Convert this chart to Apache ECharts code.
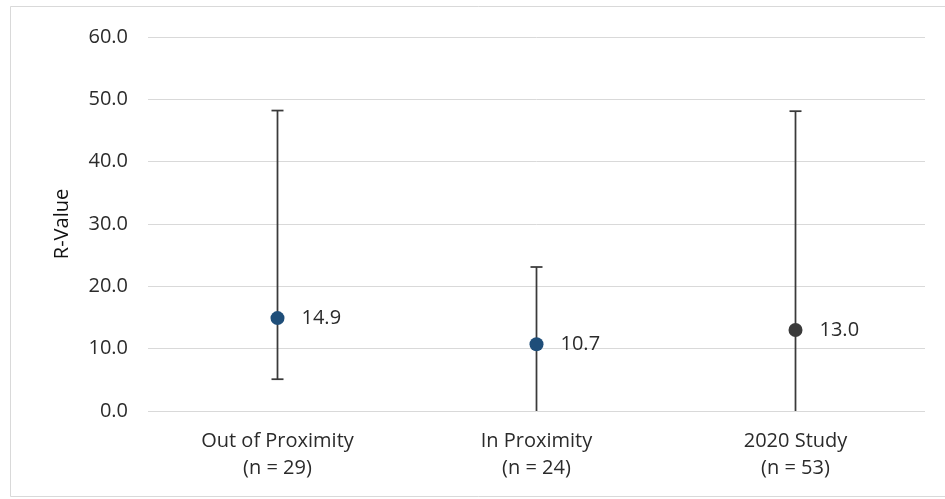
<!DOCTYPE html>
<html>
<head>
<meta charset="utf-8">
<script src="https://cdn.jsdelivr.net/npm/echarts@6/dist/echarts.min.js"></script>
<style>
html,body{margin:0;padding:0;background:#fff;}
#chart{width:945px;height:499px;}
</style>
</head>
<body>
<div id="chart"></div>
<script>
const categories = ['Out of Proximity\n(n = 29)', 'In Proximity\n(n = 24)', '2020 Study\n(n = 53)'];
const values = [14.9, 10.7, 13.0];
const lowerBounds = [5.1, 0.0, 0.0];
const upperBounds = [48.2, 23.1, 48.1];
const yTicks = [0, 10, 20, 30, 40, 50, 60];

const pointColors = ['#1f4e79', '#1f4e79', '#3a3a3a'];
const chart = echarts.init(document.getElementById('chart'));
const font = '"Open Sans", "Liberation Sans", sans-serif';
const textColor = '#2b2b2b';

const option = {
  animation: false,
  backgroundColor: '#ffffff',
  graphic: [{
    type: 'rect', silent: true,
    shape: { x: 10.5, y: 6.5, width: 940, height: 490 },
    style: { fill: 'none', stroke: '#d9d9d9', lineWidth: 1 }
  }],
  grid: { left: 148, right: 20, top: 37, bottom: 88 },
  xAxis: {
    type: 'category',
    data: categories,
    axisLine: { show: false },
    axisTick: { show: false },
    axisLabel: { color: textColor, fontSize: 20, fontFamily: font, lineHeight: 27, margin: 17 }
  },
  yAxis: {
    type: 'value',
    min: yTicks[0], max: yTicks[yTicks.length - 1], interval: 10,
    name: 'R-Value',
    nameLocation: 'middle',
    nameGap: 76,
    nameTextStyle: { color: '#111111', fontSize: 20, fontFamily: font },
    axisLine: { show: false },
    axisTick: { show: false },
    splitLine: { lineStyle: { color: '#d9d9d9', width: 1 } },
    axisLabel: { color: textColor, fontSize: 20, fontFamily: font, margin: 20,
      formatter: v => v.toFixed(1) }
  },
  series: [
    {
      type: 'custom',
      z: 2,
      data: categories.map((c, i) => [i, lowerBounds[i], upperBounds[i]]),
      renderItem: function (params, api) {
        const x = api.value(0);
        const lo = api.coord([x, api.value(1)]);
        const hi = api.coord([x, api.value(2)]);
        const hw = 6;
        const style = { stroke: '#3a3a3a', lineWidth: 1.75 };
        const children = [
          { type: 'line', shape: { x1: lo[0], y1: lo[1], x2: hi[0], y2: hi[1] }, style },
          { type: 'line', shape: { x1: hi[0] - hw, y1: hi[1], x2: hi[0] + hw, y2: hi[1] }, style }
        ];
        if (api.value(1) > 0) {
          children.push({ type: 'line', shape: { x1: lo[0] - hw, y1: lo[1], x2: lo[0] + hw, y2: lo[1] }, style });
        }
        return { type: 'group', children };
      }
    },
    {
      type: 'scatter',
      z: 3,
      symbolSize: 14,
      data: values.map((v, i) => ({ value: [i, v], itemStyle: { color: pointColors[i], opacity: 1 } })),
      label: {
        show: true, position: 'right', distance: 17,
        color: textColor, fontSize: 20, fontFamily: font,
        formatter: p => p.value[1].toFixed(1)
      }
    }
  ]
};
chart.setOption(option);
</script>
</body>
</html>
